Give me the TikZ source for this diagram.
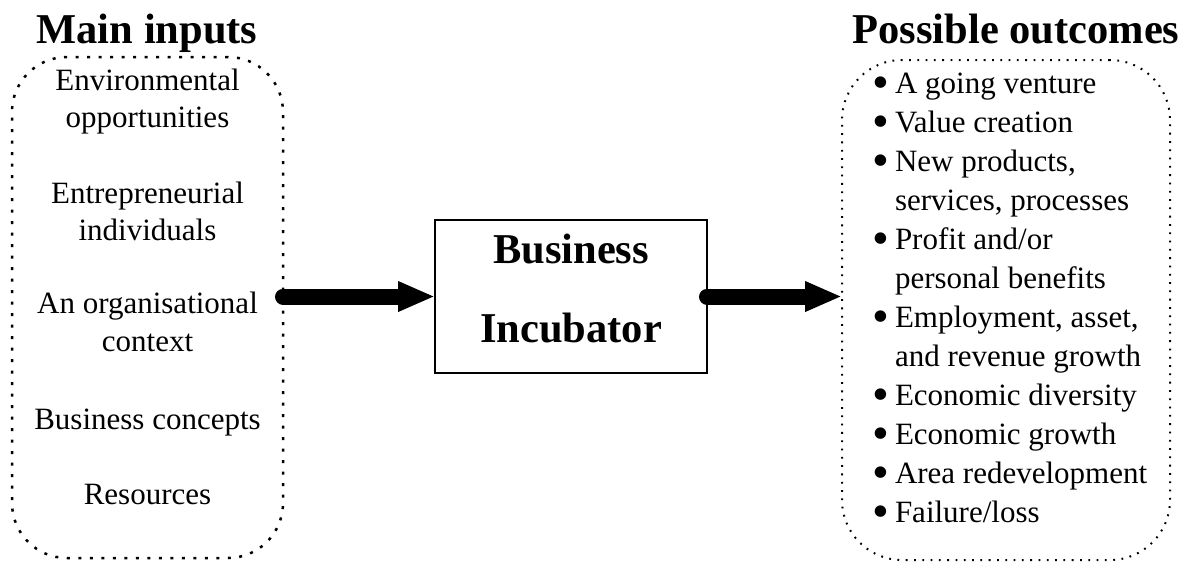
\documentclass[tikz,border=0pt]{standalone}
\usepackage{fontspec}
\setmainfont{Liberation Serif}
\usetikzlibrary{arrows.meta}
\newcommand\ibul{\makebox[20pt][l]{\hspace*{-2.7pt}\raisebox{-5.5pt}{\scalebox{1.55}{•}}}}
\newcommand\icont{\hspace*{20pt}}
\tikzset{
  every node/.style={inner sep=0pt, outer sep=0pt},
  heading/.style={font=\fontsize{42.5}{50}\selectfont\bfseries, anchor=base},
  inlabel/.style={font=\fontsize{31}{37.7}\selectfont, anchor=base, align=center},
  outitem/.style={font=\fontsize{31}{39}\selectfont, anchor=base west, align=left},
  inframe/.style={draw, line width=2.5pt, dash pattern=on 3pt off 8.5pt, rounded corners=55pt},
  outframe/.style={draw, line width=2pt, dash pattern=on 1.8pt off 6.5pt, rounded corners=60pt},
  corebox/.style={draw, line width=2pt},
  bigarrow/.style={line width=16pt, line cap=round, -{Triangle[length=37pt,width=28pt]}}
}
\begin{document}
\begin{tikzpicture}[x=1pt, y=-1pt]
\useasboundingbox (0,0) rectangle (1191,563);

% frames
\node[inframe, minimum width=271pt, minimum height=501pt] (inputs) at (147.5,307.5) {};
\node[outframe, minimum width=328pt, minimum height=500pt] (outcomes) at (1006,310) {};
\node[corebox, minimum width=272pt, minimum height=153pt] (core) at (571,296.5) {};

% headings
\node[heading] (hin) at (147,43) {Main inputs};
\node[heading] (hout) at (1016,43) {Possible outcomes};
\node[heading] (core1) at (571,263) {Business};
\node[heading] (core2) at (571,342) {Incubator};

% inputs (a node's base is the baseline of its last line)
\node[inlabel] (in1) at (147.5,127.7) {Environmental\\opportunities};
\node[inlabel] (in2) at (147.5,240.8) {Entrepreneurial\\individuals};
\node[inlabel] (in3) at (147.5,351) {An organisational\\context};
\node[inlabel] (in4) at (147.5,429.3) {Business concepts};
\node[inlabel] (in5) at (147.5,504.7) {Resources};

% outcomes
\node[outitem] (o1) at (875,93) {\ibul A going venture};
\node[outitem] (o2) at (875,132) {\ibul Value creation};
\node[outitem] (o3) at (875,210) {\ibul New products,\\\icont services, processes};
\node[outitem] (o4) at (875,288) {\ibul Profit and/or\\\icont personal benefits};
\node[outitem] (o5) at (875,366) {\ibul Employment, asset,\\\icont and revenue growth};
\node[outitem] (o6) at (875,405) {\ibul Economic diversity};
\node[outitem] (o7) at (875,444) {\ibul Economic growth};
\node[outitem] (o8) at (875,483) {\ibul Area redevelopment};
\node[outitem] (o9) at (875,522) {\ibul Failure/loss};

% arrows
\draw[bigarrow] (core.west -| inputs.east) -- (core.west);
\draw[bigarrow] (core.east) -- (core.east -| outcomes.west);
\end{tikzpicture}
\end{document}
